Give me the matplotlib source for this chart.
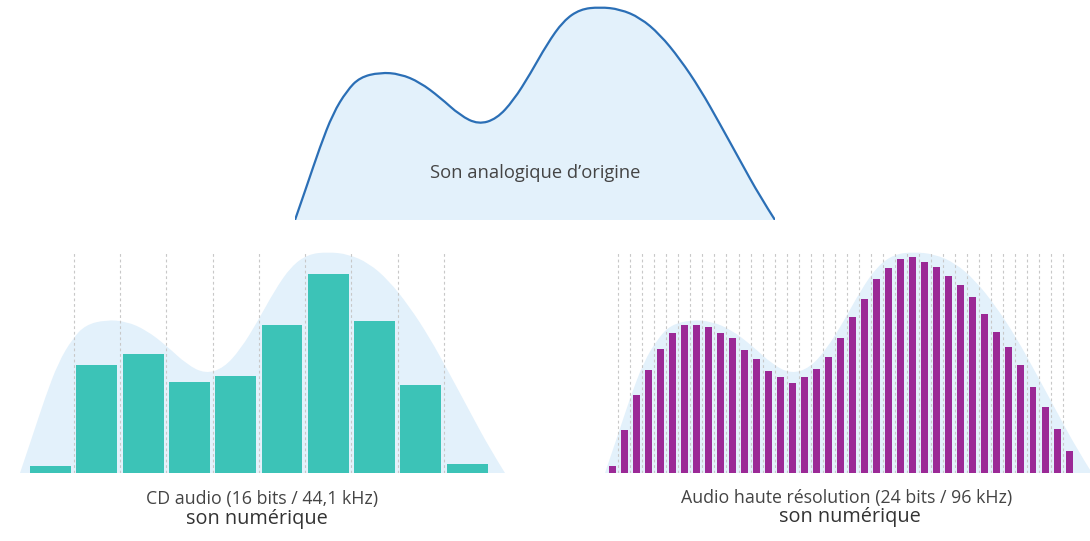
#!/usr/bin/env python3
# Son analogique vs numérique : CD audio et audio haute résolution

import matplotlib.pyplot as plt
from matplotlib.path import Path
from matplotlib.patches import PathPatch

plt.rcParams['font.family'] = ['Open Sans', 'DejaVu Sans']

# forme du son analogique (x et amplitude en % de la largeur / hauteur)
curve_x = [0, 2.4, 5.2, 7.9, 10.8, 13.5, 17.7, 21.9, 26.0, 30.2, 34.4, 38.2, 42.0, 45.5,
           49.0, 52.5, 55.9, 59.4, 63.5, 67.7, 71.9, 76.0, 80.2, 84.4, 88.5, 92.7, 96.9, 100]
curve_y = [0, 15.6, 34.3, 50.0, 60.7, 67.0, 69.3, 68.6, 64.7, 57.6, 49.1, 44.9, 47.5, 56.1,
           68.6, 82.6, 93.5, 99.0, 100, 99.0, 95.0, 87.2, 75.6, 61.5, 45.2, 28.0, 10.9, 0]

# échantillons CD audio
cd_values = [3, 49, 54, 41, 44, 67, 90, 69, 40, 4]

# échantillons haute résolution
hires_values = [3.3, 19.6, 35.2, 46.7, 56.1, 63.3, 67.1, 67.1, 66.1, 63.3,
                60.9, 55.7, 51.6, 46.3, 43.4, 40.7, 43.4, 47.1, 52.5, 60.9,
                70.7, 78.9, 87.8, 92.8, 96.8, 97.7, 95.6, 93.1, 89.3, 85.1,
                79.5, 72.1, 63.9, 57.1, 48.9, 38.8, 30.0, 19.8, 10.1]

W, H = 1090, 541
fill_col = '#e3f1fb'
line_col = '#2b6fb6'
grid_col = '#c8c8c8'
text_col = '#444444'

fig = plt.figure(figsize=(W / 100, H / 100), dpi=100)


def px_axes(x0, y0, x1, y1):
    # axes placé en pixels (origine en haut à gauche)
    ax = fig.add_axes([x0 / W, 1 - y1 / H, (x1 - x0) / W, (y1 - y0) / H])
    ax.set_axis_off()
    return ax


def smooth_path(xs, ys, closed=False):
    # courbe lissée (béziers quadratiques entre les milieux)
    pts = list(zip(xs, ys))
    verts = [pts[0]]
    codes = [Path.MOVETO]
    for i in range(1, len(pts) - 1):
        mid = ((pts[i][0] + pts[i + 1][0]) / 2, (pts[i][1] + pts[i + 1][1]) / 2)
        if i == len(pts) - 2:
            mid = pts[-1]
        verts += [pts[i], mid]
        codes += [Path.CURVE3, Path.CURVE3]
    if closed:
        verts.append(pts[0])
        codes.append(Path.CLOSEPOLY)
    return Path(verts, codes)


# --- son analogique d'origine ---
ax_top = px_axes(295, 6, 775, 220)
ax_top.add_patch(PathPatch(smooth_path(curve_x, curve_y, True), fc=fill_col, lw=0))
ax_top.add_patch(PathPatch(smooth_path(curve_x, curve_y), fc='none', ec=line_col,
                           lw=1.6, capstyle='round'))
ax_top.set_xlim(0, 100)
ax_top.set_ylim(0, 100.5)
ax_top.text(50, 22, 'Son analogique d\u2019origine', ha='center', va='center',
            fontsize=13.2, color=text_col)


def panel(x0, x1, first_center, pitch, values, bar_w, color):
    ax = px_axes(x0, 252, x1, 473)
    lo = (x0 - first_center) / pitch
    hi = (x1 - first_center) / pitch
    sx = [lo + v / 100 * (hi - lo) for v in curve_x]
    ax.add_patch(PathPatch(smooth_path(sx, curve_y, True), fc=fill_col, lw=0, zorder=0))
    for i in range(len(values) - 1):
        ax.plot([i + 0.5, i + 0.5], [0, 100], color=grid_col, lw=0.8,
                ls=(0, (2.5, 2.5)), zorder=1)
    ax.bar(range(len(values)), values, width=bar_w, color=color, lw=0, zorder=2)
    ax.set_xlim(lo, hi)
    ax.set_ylim(0, 100)
    return ax


# --- CD audio ---
panel(20, 505, 50.5, 46.3, cd_values, 0.885, '#3cc3b7')
# --- haute résolution ---
panel(605, 1092, 612.3, 12.02, hires_values, 0.58, '#9b2996')

fig.text(262 / W, 1 - 499 / H, 'CD audio (16 bits / 44,1 kHz)', ha='center', va='center',
         fontsize=12.8, color=text_col)
fig.text(257 / W, 1 - 519 / H, 'son numérique', ha='center', va='center',
         fontsize=14.3, color='#333333')
fig.text(847 / W, 1 - 498 / H, 'Audio haute résolution (24 bits / 96 kHz)', ha='center',
         va='center', fontsize=12.8, color=text_col)
fig.text(850 / W, 1 - 517 / H, 'son numérique', ha='center', va='center',
         fontsize=14.3, color='#333333')

fig.savefig('out.png', dpi=100, facecolor='white')
